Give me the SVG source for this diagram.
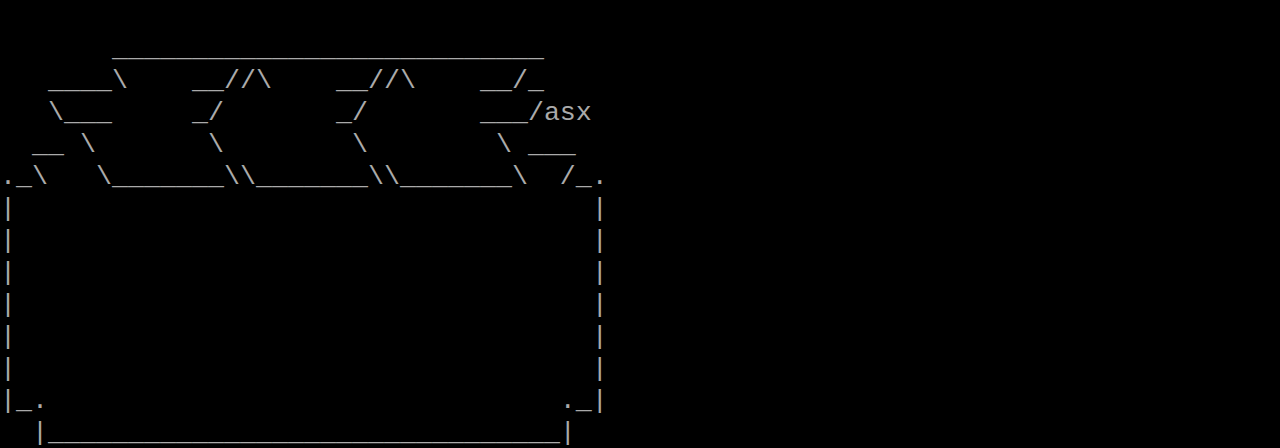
<svg xmlns="http://www.w3.org/2000/svg" width="1280" height="448" viewBox="0 0 1280 448">
<style>
text{font-family:"Liberation Mono","DejaVu Sans Mono",monospace;font-size:26.667px;fill:#aaaaaa;white-space:pre}
</style>
<rect width="1280" height="448" fill="#000000"/>
<g id="art" xml:space="preserve">
<text x="0" y="56">       ___________________________</text>
<text x="0" y="88">   ____\    __//\    __//\    __/_</text>
<text x="0" y="120">   \___     _/       _/       ___/asx</text>
<text x="0" y="152">  __ \       \        \        \ ___</text>
<text x="0" y="184">._\   \_______\\_______\\_______\  /_.</text>
<text x="0" y="216">|                                    |</text>
<text x="0" y="248">|                                    |</text>
<text x="0" y="280">|                                    |</text>
<text x="0" y="312">|                                    |</text>
<text x="0" y="344">|                                    |</text>
<text x="0" y="376">|                                    |</text>
<text x="0" y="408">|_.                                ._|</text>
<text x="0" y="440">  |________________________________|</text>
</g>
</svg>
